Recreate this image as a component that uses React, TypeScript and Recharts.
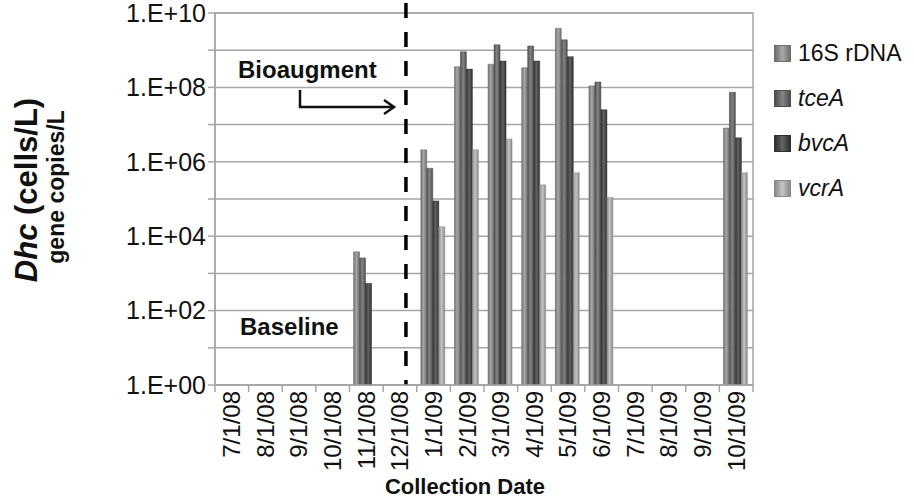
import React from 'react';
import {
  BarChart,
  Bar,
  XAxis,
  YAxis,
  CartesianGrid,
  ReferenceLine,
  ReferenceArea,
} from 'recharts';

const dates = [
  '7/1/08', '8/1/08', '9/1/08', '10/1/08', '11/1/08', '12/1/08', '1/1/09', '2/1/09',
  '3/1/09', '4/1/09', '5/1/09', '6/1/09', '7/1/09', '8/1/09', '9/1/09', '10/1/09',
];

const rDNA16S = [null, null, null, null, 3.8e3, null, 2.1e6, 3.6e8, 4.2e8, 3.4e8, 3.9e9, 1.1e8, null, null, null, 8.1e6];
const tceA = [null, null, null, null, 2.6e3, null, 6.7e5, 9.1e8, 1.4e9, 1.3e9, 1.9e9, 1.4e8, null, null, null, 7.4e7];
const bvcA = [null, null, null, null, 5.4e2, null, 8.9e4, 3.1e8, 5.1e8, 5.1e8, 6.7e8, 2.5e7, null, null, null, 4.4e6];
const vcrA = [null, null, null, null, null, null, 1.8e4, 2.1e6, 4.1e6, 2.4e5, 5.1e5, 1.1e5, null, null, null, 5.1e5];

const yTicks = [1, 1e1, 1e2, 1e3, 1e4, 1e5, 1e6, 1e7, 1e8, 1e9, 1e10];

const data = dates.map((date, i) => ({
  date,
  rDNA16S: rDNA16S[i],
  tceA: tceA[i],
  bvcA: bvcA[i],
  vcrA: vcrA[i],
}));

const SERIES = [
  { key: 'rDNA16S', name: '16S rDNA', italic: false, edge: '#6e6e6e', mid: '#a8a8a8' },
  { key: 'tceA', name: 'tceA', italic: true, edge: '#4e4e4e', mid: '#858585' },
  { key: 'bvcA', name: 'bvcA', italic: true, edge: '#303030', mid: '#636363' },
  { key: 'vcrA', name: 'vcrA', italic: true, edge: '#8a8a8a', mid: '#c4c4c4' },
];

const FONT = 'Arial, "Liberation Sans", sans-serif';
const GRID = '#a6a6a6';
const W = 914;
const H = 502;
const M = { top: 13, right: 161, left: 0, bottom: 0 };
const Y_W = 215;
const X_H = 117;
const BAND = (W - M.right - Y_W) / dates.length;

const fmtY = (v: number) => {
  const e = Math.round(Math.log10(v));
  return e % 2 ? '' : `1.E+${String(e).padStart(2, '0')}`;
};

function DateTick(props: any) {
  const { x, y, payload, index } = props;
  const axisY = y - 9;
  const left = x - BAND / 2;
  return (
    <g>
      <line x1={left} y1={axisY} x2={left} y2={axisY + 7} stroke={GRID} strokeWidth={1.5} />
      {index === dates.length - 1 && (
        <line x1={x + BAND / 2} y1={axisY} x2={x + BAND / 2} y2={axisY + 7} stroke={GRID} strokeWidth={1.5} />
      )}
      <text
        x={x}
        y={y - 3}
        dy="0.35em"
        transform={`rotate(-90 ${x} ${y - 3})`}
        textAnchor="end"
        fontSize={24}
        fontFamily={FONT}
        fill="#111"
      >
        {payload.value}
      </text>
    </g>
  );
}

function LegendBox() {
  return (
    <div
      style={{
        position: 'absolute',
        left: 774,
        top: 31,
        fontFamily: FONT,
        fontSize: 23,
        color: '#111',
      }}
    >
      {SERIES.map((s) => (
        <div key={s.key} style={{ display: 'flex', alignItems: 'center', height: 45 }}>
          <span
            style={{
              display: 'inline-block',
              width: 15,
              height: 15,
              marginRight: 7,
              border: `1px solid ${s.edge}`,
              background: `linear-gradient(90deg, ${s.edge}, ${s.mid} 50%, ${s.edge})`,
            }}
          />
          <span style={{ fontStyle: s.italic ? 'italic' : 'normal' }}>{s.name}</span>
        </div>
      ))}
    </div>
  );
}

const dashShape = (p: any) => {
  const x = Math.min(p.x1, p.x2) + 6;
  const bottom = Math.max(p.y1, p.y2);
  return (
    <line
      x1={x}
      y1={3}
      x2={x}
      y2={bottom}
      stroke="#000"
      strokeWidth={3.5}
      strokeDasharray="15 14"
    />
  );
};

export default function App() {
  return (
    <div style={{ position: 'absolute', left: 0, top: 0, width: W, height: H, background: '#fff' }}>
      <BarChart
        width={W}
        height={H}
        data={data}
        margin={M}
        barCategoryGap="12%"
        barGap={0}
      >
        <defs>
          {SERIES.map((s) => (
            <linearGradient key={s.key} id={`g-${s.key}`} x1="0" y1="0" x2="1" y2="0">
              <stop offset="0%" stopColor={s.edge} />
              <stop offset="45%" stopColor={s.mid} />
              <stop offset="100%" stopColor={s.edge} />
            </linearGradient>
          ))}
        </defs>
        <CartesianGrid vertical={false} stroke={GRID} strokeWidth={1.5} />
        <ReferenceArea y1={1} y2={1e10} fill="none" stroke={GRID} strokeWidth={1.5} />
        <XAxis
          dataKey="date"
          interval={0}
          height={X_H}
          tickSize={7}
          tickMargin={2}
          tickLine={false}
          axisLine={{ stroke: GRID, strokeWidth: 1.5 }}
          tick={<DateTick />}
        />
        <YAxis
          scale="log"
          domain={[1, 1e10]}
          allowDataOverflow
          ticks={yTicks}
          interval={0}
          width={Y_W}
          tickSize={7}
          tickMargin={2}
          tickFormatter={fmtY}
          tick={{ fontSize: 25, fontFamily: FONT, fill: '#111' }}
          tickLine={{ stroke: GRID, strokeWidth: 1.5 }}
          axisLine={{ stroke: GRID, strokeWidth: 1.5 }}
        />
        {SERIES.map((s) => (
          <Bar
            key={s.key}
            dataKey={s.key}
            name={s.name}
            fill={`url(#g-${s.key})`}
            stroke={s.edge}
            strokeWidth={0.5}
            isAnimationActive={false}
          />
        ))}
        <ReferenceLine x="12/1/08" ifOverflow="visible" shape={dashShape} />
      </BarChart>
      <LegendBox />
      <svg
        width={W}
        height={H}
        style={{ position: 'absolute', left: 0, top: 0, pointerEvents: 'none' }}
        fontFamily={FONT}
      >
        <text x={37} y={190} transform="rotate(-90 37 190)" textAnchor="middle" fontSize={31} fontWeight="bold" fill="#111">
          <tspan fontStyle="italic">Dhc</tspan> (cells/L)
        </text>
        <text x={64} y={187} transform="rotate(-90 64 187)" textAnchor="middle" fontSize={23} fontWeight="bold" fill="#111">
          gene copies/L
        </text>
        <text x={465} y={494} textAnchor="middle" fontSize={22} fontWeight="bold" fill="#111">
          Collection Date
        </text>
        <text x={238} y={78} fontSize={24} fontWeight="bold" fill="#111">
          Bioaugment
        </text>
        <path d="M300 90 V107 H393" fill="none" stroke="#111" strokeWidth={2.5} />
        <path d="M384 100 L394 107 L384 114" fill="none" stroke="#111" strokeWidth={2.5} />
        <text x={240} y={335} fontSize={24} fontWeight="bold" fill="#111">
          Baseline
        </text>
      </svg>
    </div>
  );
}
